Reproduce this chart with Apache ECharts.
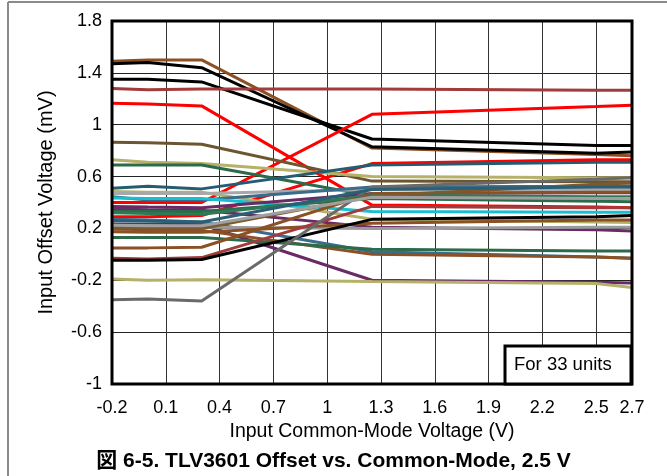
<!DOCTYPE html>
<html lang="en">
	<head>
		<meta charset="utf-8">
		<title>TLV3601 Offset vs. Common-Mode</title>
		<script src="https://cdn.jsdelivr.net/npm/echarts@6/dist/echarts.min.js"></script>
		<style>
			html, body { margin: 0; padding: 0; background: #fff; }
			#chart { width: 667px; height: 476px; }
		</style>
	</head>
	<body>
		<div id="chart"></div>
		<script type="text/javascript">
			// common-mode voltage points (V)
			var vcm = [-0.2, 0, 0.3, 1.25, 2.5, 2.7];

			// offset voltage per unit (mV)
			var u01 = [1.49, 1.50, 1.50, 0.82, 0.77, 0.76];
			var u02 = [1.47, 1.48, 1.44, 0.83, 0.78, 0.79];
			var u03 = [1.35, 1.35, 1.33, 0.89, 0.84, 0.84];
			var u04 = [1.28, 1.27, 1.275, 1.275, 1.265, 1.265];
			var u05 = [1.165, 1.16, 1.145, 0.38, 0.365, 0.36];
			var u06 = [0.40, 0.40, 0.40, 1.08, 1.14, 1.15];
			var u07 = [0.29, 0.29, 0.30, 0.70, 0.73, 0.73];
			var u08 = [0.865, 0.86, 0.85, 0.565, 0.56, 0.56];
			var u09 = [0.73, 0.71, 0.70, 0.60, 0.59, 0.59];
			var u10 = [0.69, 0.69, 0.69, 0.45, 0.43, 0.43];
			var u11 = [0.51, 0.525, 0.505, 0.69, 0.71, 0.71];
			var u12 = [0.485, 0.48, 0.48, 0.27, 0.25, 0.245];
			var u13 = [0.47, 0.47, 0.47, 0.50, 0.50, 0.50];
			var u14 = [0.445, 0.42, 0.42, 0.52, 0.525, 0.527];
			var u15 = [0.435, 0.43, 0.43, 0.33, 0.325, 0.325];
			var u16 = [0.37, 0.365, 0.36, 0.47, 0.475, 0.475];
			var u17 = [0.35, 0.345, 0.34, 0.21, 0.19, 0.18];
			var u18 = [0.235, 0.23, 0.23, -0.20, -0.215, -0.22];
			var u19 = [0.33, 0.33, 0.33, 0.43, 0.41, 0.405];
			var u20 = [0.27, 0.265, 0.25, 0.02, -0.02, -0.03];
			var u21 = [0.22, 0.22, 0.21, 0.20, 0.21, 0.21];
			var u22 = [0.195, 0.19, 0.185, 0.0, -0.02, -0.03];
			var u23 = [0.175, 0.17, 0.17, 0.24, 0.265, 0.265];
			var u24 = [0.13, 0.13, 0.13, 0.04, 0.025, 0.025];
			var u25 = [0.05, 0.05, 0.055, 0.47, 0.48, 0.48];
			var u26 = [-0.03, -0.035, -0.025, 0.37, 0.36, 0.36];
			var u27 = [-0.045, -0.045, -0.04, 0.27, 0.29, 0.30];
			var u28 = [-0.19, -0.20, -0.195, -0.21, -0.225, -0.255];
			var u29 = [-0.35, -0.345, -0.36, 0.52, 0.58, 0.59];
			var u30 = [0.32, 0.315, 0.31, 0.455, 0.445, 0.445];
			var u31 = [0.21, 0.205, 0.20, 0.45, 0.54, 0.55];
			var u32 = [0.225, 0.22, 0.22, 0.44, 0.43, 0.43];
			var u33 = [0.26, 0.255, 0.25, 0.50, 0.52, 0.52];

			var units = [u01, u02, u03, u04, u05, u06, u07, u08, u09, u10, u11,
				u12, u13, u14, u15, u16, u17, u18, u19, u20, u21, u22, u23, u24,
				u25, u26, u27, u28, u29, u30, u31, u32, u33];

			var colors = ['#8b5024', '#000000', '#000000', '#a23c3c', '#ff0000', '#ff0000', '#ff0000',
				'#6b5630', '#b5b06a', '#2b6b4c', '#245d72', '#b5b06a', '#a8a8a8', '#3a6c8c',
				'#17bfd0', '#6a2a66', '#6a2a66', '#6a2a66', '#2b6b4c', '#3a6c8c', '#9a9a9a',
				'#8b5024', '#8b5024', '#2b6b4c', '#8b5024', '#a23c3c', '#000000', '#b5b06a',
				'#6a6a6a', '#2e7a55', '#7a5a2e', '#a0a0a0', '#2c5f75'];

			var yTicks = ['-1', '-0.6', '-0.2', '0.2', '0.6', '1', '1.4', '1.8'];
			var xTicks = ['-0.2', '0.1', '0.4', '0.7', '1', '1.3', '1.6', '1.9', '2.2', '2.5', '2.7'];

			var series = [];
			for (var i = 0; i < units.length; i++) {
				var pts = [];
				for (var j = 0; j < vcm.length; j++) {
					pts.push([vcm[j], units[i][j]]);
				}
				series.push({
					type: 'line',
					data: pts,
					showSymbol: false,
					silent: true,
					lineStyle: { color: colors[i], width: 3 },
					z: 3
				});
			}

			var font = 'Liberation Sans, Arial, sans-serif';
			var chart = echarts.init(document.getElementById('chart'), null, { renderer: 'canvas' });
			chart.setOption({
				animation: false,
				backgroundColor: '#fff',
				grid: {
					left: 112,
					right: 35,
					top: 21,
					bottom: 92,
					show: true,
					borderColor: '#000',
					borderWidth: 3,
					z: 5
				},
				xAxis: {
					type: 'value',
					min: -0.2,
					max: 2.7,
					interval: 0.3,
					name: 'Input Common-Mode Voltage (V)',
					nameLocation: 'middle',
					nameGap: 37,
					nameTextStyle: { fontFamily: font, fontSize: 19.5, color: '#000' },
					axisLine: { show: false },
					axisTick: { show: false },
					axisLabel: {
						fontFamily: font, fontSize: 18, color: '#000', margin: 15,
						formatter: function(v) {
							var k = Math.round((v + 0.2) / 0.3);
							if (Math.abs(v - 2.7) < 1e-6) return xTicks[xTicks.length - 1];
							return xTicks[k] !== undefined ? xTicks[k] : '';
						}
					},
					splitLine: { show: true, lineStyle: { color: '#333', width: 1 } }
				},
				yAxis: {
					type: 'value',
					min: -1,
					max: 1.8,
					interval: 0.4,
					name: 'Input Offset Voltage (mV)',
					nameLocation: 'middle',
					nameGap: 56,
					nameTextStyle: { fontFamily: font, fontSize: 20, color: '#000' },
					axisLine: { show: false },
					axisTick: { show: false },
					axisLabel: {
						fontFamily: font, fontSize: 18, color: '#000', margin: 10,
						formatter: function(v) {
							var k = Math.round((v + 1) / 0.4);
							return yTicks[k] !== undefined ? yTicks[k] : '';
						}
					},
					splitLine: { show: true, lineStyle: { color: '#222', width: 1 } }
				},
				graphic: [
					{ type: 'line', shape: { x1: 8, y1: 2, x2: 667, y2: 2 }, style: { stroke: '#8a8a8a', lineWidth: 2 } },
					{ type: 'line', shape: { x1: 8, y1: 2, x2: 8, y2: 476 }, style: { stroke: '#8a8a8a', lineWidth: 2 } },
					{
						type: 'rect', z: 10,
						shape: { x: 505, y: 346, width: 126, height: 38 },
						style: { fill: '#fff', stroke: '#000', lineWidth: 3 }
					},
					{
						type: 'text', z: 11, left: 514, top: 355,
						style: { text: 'For 33 units', font: '18.5px ' + font, fill: '#000' }
					},
					{
						type: 'text', z: 11, left: 'center', top: 451,
						style: { text: '図 6-5. TLV3601 Offset vs. Common-Mode, 2.5 V', font: 'bold 21px Liberation Sans, Arial, Noto Sans CJK JP, sans-serif', fill: '#000' }
					}
				],
				series: series
			});
		</script>
	</body>
</html>
